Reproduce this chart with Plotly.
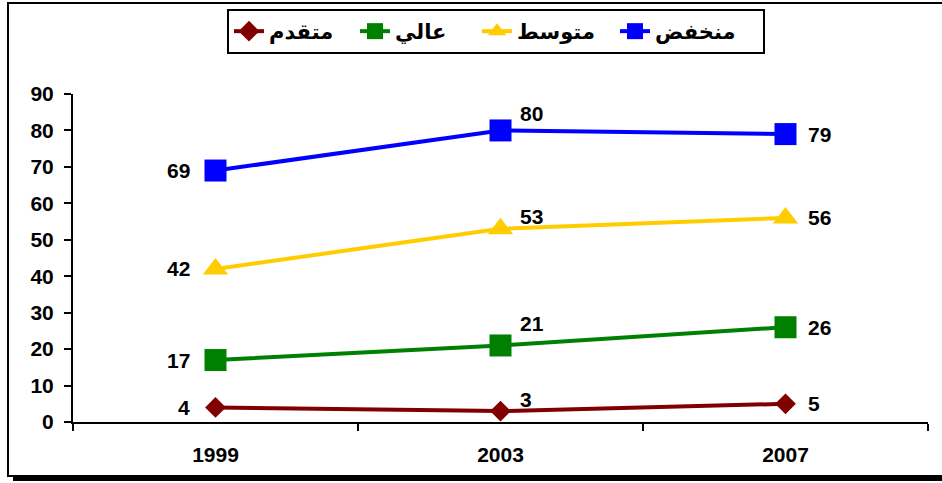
import plotly.graph_objects as go

years = ["1999", "2003", "2007"]
series_names = ["متقدم", "عالي", "متوسط", "منخفض"]
advanced = [4, 3, 5]
high = [17, 21, 26]
medium = [42, 53, 56]
low = [69, 80, 79]
y_ticks = [0, 10, 20, 30, 40, 50, 60, 70, 80, 90]

FONT = "Liberation Sans, Arial, DejaVu Sans"
styles = [
    ("#800000", "diamond", 16),
    ("#008000", "square", 22),
    ("#FFCC00", "triangle-up", 22),
    ("#0000FF", "square", 22),
]
legend_widths = [81, 77, 93, 103]
# label placement: per year (x offset, anchor), extra lift for the middle year per series
label_dx = [-24, 17, 20]
label_anchor = ["right", "left", "left"]
mid_lift = [12, 22, 12, 17]

fig = go.Figure()
annotations = []
all_series = [advanced, high, medium, low]
for i, (name, vals, (color, symbol, size)) in enumerate(zip(series_names, all_series, styles)):
    fig.add_trace(go.Scatter(
        x=years, y=vals, name=name, mode="lines+markers",
        line=dict(color=color, width=4),
        marker=dict(color=color, symbol=symbol, size=size, line=dict(width=0)),
        legendwidth=legend_widths[i],
        cliponaxis=False,
    ))
    for j, v in enumerate(vals):
        # category axis: position annotations by category index
        annotations.append(dict(
            x=j, y=v, xref="x", yref="y", text=str(v), showarrow=False,
            xanchor=label_anchor[j], yanchor="middle",
            xshift=label_dx[j], yshift=mid_lift[i] if j == 1 else 0,
            font=dict(family=FONT, size=21, color="black", weight="bold"),
        ))

# outer frame with drop shadow
fig.add_shape(type="rect", xref="paper", yref="paper", layer="below",
              x0=(13 - 73) / 855, x1=(960 - 73) / 855,
              y0=(422 - 481) / 328, y1=(422 - 8) / 328,
              fillcolor="black", line=dict(width=0))
fig.add_shape(type="rect", xref="paper", yref="paper", layer="below",
              x0=(8 - 73) / 855, x1=(955 - 73) / 855,
              y0=(422 - 476) / 328, y1=(422 - 3) / 328,
              fillcolor="white", line=dict(color="black", width=2))

fig.update_layout(
    width=942, height=483,
    margin=dict(l=73, r=14, t=94, b=61, autoexpand=False),
    paper_bgcolor="white", plot_bgcolor="rgba(0,0,0,0)",
    font=dict(family=FONT, size=21, color="black", weight="bold"),
    showlegend=True,
    annotations=annotations,
    legend=dict(orientation="h", x=(496 - 73) / 855, xanchor="center",
                yref="container", y=1 - 9 / 483, yanchor="top",
                bgcolor="white", bordercolor="black", borderwidth=2,
                font=dict(family=FONT, size=21, color="black", weight="bold"),
                traceorder="normal"),
    xaxis=dict(type="category", range=[-0.5, 2.5], tickson="boundaries",
               ticks="outside", ticklen=7, tickwidth=2, tickcolor="black",
               showline=True, linecolor="black", linewidth=2, showgrid=False,
               ticklabelstandoff=13, zeroline=False, automargin=False),
    yaxis=dict(range=[0, 90], tickvals=y_ticks, ticks="outside", ticklen=7, tickwidth=2,
               tickcolor="black", showline=True, linecolor="black", linewidth=2,
               showgrid=False, zeroline=False, ticklabelstandoff=6, automargin=False),
)

fig.write_html("out.html", config={"displayModeBar": False},
               post_script="document.body.style.margin = '0';")
